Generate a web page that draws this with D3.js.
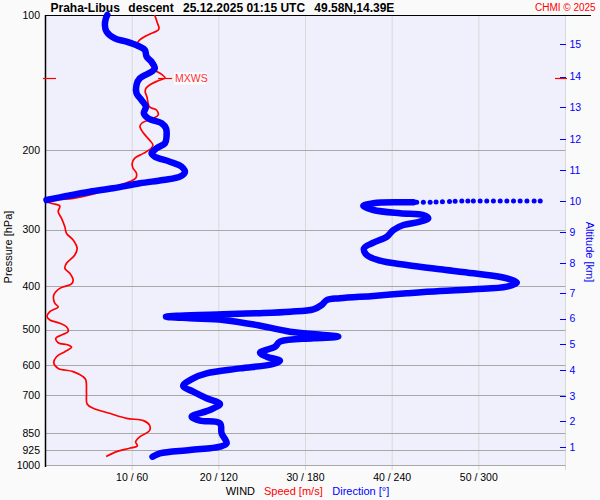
<!DOCTYPE html>
<meta charset="utf-8">
<style>
body { margin: 0; background: #fafafa; }
text { font-family: "Liberation Sans", Arial, sans-serif; }
</style>
<body>
<script src="https://cdn.jsdelivr.net/npm/d3@7"></script>
<script>
var width = 600,
    height = 500;

// wind speed [m/s] by pressure [hPa]
var speedProfile = [
  [100,12.6],[104,12.9],[107,13.1],[108,13.0],[111,11.7],[114,10.8],[116,10.6],[118,11.1],
  [121,11.6],[124,11.8],[128,12.0],[132.5,12.6],[135.5,13.4],[138,13.8],[140,13.0],[142.4,12.2],
  [145.5,11.6],[148,11.5],[152,11.7],[160,12.0],[162.6,12.8],[166.8,13.0],[169.7,12.4],[174,11.1],
  [177,10.9],[183,11.3],[189.6,12.0],[194.5,12.4],[197.8,12.2],[203,11.3],[208,10.3],[213.6,10.0],
  [219,10.1],[224.8,10.5],[230.6,10.4],[234.6,9.7],[238.6,8.6],[244.8,7.0],[251.2,5.1],[255.5,3.2],
  [257,1.65],[258.4,0.5],[259.7,0.15],[262.4,0.73],[265.7,1.65],[273.6,1.46],[283,1.85],[295.4,2.23],
  [305.6,2.42],[316.2,3.19],[330,3.65],[341.5,3.38],[356.3,2.42],[365.5,2.23],[375,2.8],[388,3.19],
  [396,3.0],[405,1.65],[419,0.96],[437,1.07],[445,1.46],[456,0.5],[468,0.18],[476,0.5],
  [484,1.65],[493,2.42],[505.5,2.61],[514,1.85],[523,1.19],[535,1.46],[541,2.61],[547.6,3.0],
  [560,2.23],[574.5,1.27],[594,0.96],[610,1.46],[620,3.19],[636.5,4.34],[647,4.65],[693,4.73],
  [732,4.8],[748,5.5],[767.6,7.4],[787.5,9.35],[797,11.3],[815,12.0],[839,12.0],[865,10.9],
  [887.6,10.4],[907,10.6],[918,9.7],[934,8.2],[958,7.0]
];

// wind direction [deg] by pressure [hPa]
var dirUpper = [
  [100,42.8],[101.7,41.8],[105.3,41.1],[108.9,42.3],[112.7,48],[114.6,56.1],[117.2,64.2],[119.6,68.8],
  [123.8,70],[127,73.4],[131.4,75.7],[133.7,73.4],[138.3,65.3],[143,63],[149.3,63],[154.5,66.5],
  [159.9,69.5],[165.4,68.1],[169.7,71.1],[174,80.4],[178.6,83.4],[186.4,83.8],[192.8,82.7],[197.8,76.9],
  [203,73.4],[206.5,75.7],[211.8,86.1],[217.3,94.2],[223.6,96.5],[228.7,93.1],[232.6,81.5],[236.6,65.3],
  [242.7,46.8],[247,30.7],[252.5,14.5],[257.7,0.7]
];
var dirDots = [
  [260.7,257],[260.7,261.6],[260.7,266.3],[260.4,270.4],[260.1,274.8],[259.6,279.7],[259.2,283.6],
  [259,288.2],[259,292.4],[259,296.2],[259,300.9],[259,305.5],[259,310.1],[259,314.8],[259,319.4],
  [259,324],[259,328.6],[259,333.3],[259,338.3],[259,342.5]
];
var dirLower = [
  [260.7,254.7],[260.7,245.5],[262,227],[265.7,220],[271.2,227],[275.9,245.5],[278.3,261.6],[283,265],
  [288,259.3],[292.9,247.8],[300.5,240.8],[311,236.3],[320.6,227],[330,220.5],[341.5,222.4],[351.6,231.6],
  [359.4,250.1],[367.4,273.2],[375,296.3],[384.7,319.4],[393.5,326.3],[401.6,319.4],[407,296.3],[410.5,273.2],
  [415.4,250.1],[421,227],[426,203.9],[430,194.7],[441,191.2],[450.8,185.4],[456.4,169.3],[460,146.2],
  [462.5,123],[465.8,93],[468.2,83.4],[472,100],[476,123],[488.5,146.2],[505.5,169.3],[518.6,202.7],
  [523,185.4],[532,162.3],[546,158.9],[563,148.5],[574.5,153.1],[586.4,162.3],[596.4,157.7],[610,134.6],
  [625.5,111.5],[641.7,102.3],[667.5,95.3],[687,102.3],[710.8,111.5],[731.8,120.8],[754.6,113.8],[781,101.2],
  [797,106.9],[808,120.8],[850,121.9],[895,125.4],[910.6,120.8],[926,100],[942,79.2],[958.4,74.1]
];

var pressureTicks = [100, 200, 300, 400, 500, 600, 700, 850, 925, 1000];
var speedTicks = [10, 20, 30, 40, 50];
var tickLabels = ["10 / 60", "20 / 120", "30 / 180", "40 / 240", "50 / 300"];
var altitudeKm = [1, 2, 3, 4, 5, 6, 7, 8, 9, 10, 11, 12, 13, 14, 15];
var altitudeP = [912, 798, 702, 615, 538, 473, 415, 356, 304, 259, 221, 189, 160, 137, 116];

var titleParts = ["Praha-Libus", "descent", "25.12.2025 01:15 UTC", "49.58N,14.39E"];
var titleX = [50.5, 128.3, 183, 314.3];

var plotLeft = 45.5, plotRight = 565.5, plotTop = 15, plotBottom = 465;

var x = d3.scaleLinear().domain([0, 60]).range([plotLeft, plotRight]);
var xDir = d3.scaleLinear().domain([0, 360]).range([plotLeft, plotRight]);
var y = d3.scaleLog().domain([100, 1000]).range([plotTop, plotBottom]);

var svg = d3.select("body").append("svg")
    .attr("width", width)
    .attr("height", height);

svg.append("rect").attr("width", width).attr("height", height).attr("fill", "#fafafa");
svg.append("rect")
    .attr("x", plotLeft).attr("y", plotTop)
    .attr("width", plotRight - plotLeft).attr("height", plotBottom - plotTop)
    .attr("fill", "#f0f0fc");

// vertical grid
svg.selectAll(".vgrid").data(speedTicks.concat([60])).enter().append("line")
    .attr("x1", d => x(d)).attr("x2", d => x(d))
    .attr("y1", plotTop).attr("y2", plotBottom + 5)
    .attr("stroke", "#d8d8d8").attr("stroke-width", 1);

// horizontal grid
svg.selectAll(".hgrid").data(pressureTicks.slice(1)).enter().append("line")
    .attr("x1", plotLeft).attr("x2", plotRight)
    .attr("y1", d => Math.round(y(d)) + 0.5).attr("y2", d => Math.round(y(d)) + 0.5)
    .attr("stroke", "#a8a8a8").attr("stroke-width", 1);

// pressure labels
svg.selectAll(".plab").data(pressureTicks).enter().append("text")
    .attr("x", 40).attr("y", d => y(d))
    .attr("dy", "0.36em")
    .attr("text-anchor", "end")
    .attr("font-size", "10.5px")
    .attr("fill", "#000")
    .text(d => d);

svg.append("text")
    .attr("transform", "translate(11.5,247) rotate(-90)")
    .attr("text-anchor", "middle")
    .attr("font-size", "11px")
    .text("Pressure [hPa]");

// wind tick labels
svg.selectAll(".xlab").data(speedTicks).enter().append("text")
    .attr("x", d => x(d)).attr("y", 481)
    .attr("text-anchor", "middle")
    .attr("font-size", "10.5px")
    .text((d, i) => tickLabels[i]);

svg.append("text").attr("x", 225.7).attr("y", 495).attr("font-size", "11px").text("WIND");
svg.append("text").attr("x", 264).attr("y", 495).attr("font-size", "11px").attr("fill", "#ff0000").text("Speed [m/s]");
svg.append("text").attr("x", 332.3).attr("y", 495).attr("font-size", "11px").attr("fill", "#0000ff").text("Direction [°]");

// altitude axis
svg.selectAll(".atick").data(altitudeP).enter().append("line")
    .attr("x1", 560).attr("x2", 566)
    .attr("y1", d => Math.round(y(d)) + 0.5).attr("y2", d => Math.round(y(d)) + 0.5)
    .attr("stroke", "#0000ff").attr("stroke-width", 1);
svg.selectAll(".alab").data(altitudeP).enter().append("text")
    .attr("x", 569.5).attr("y", d => y(d))
    .attr("dy", "0.36em")
    .attr("font-size", "10.5px")
    .attr("fill", "#0000ff")
    .text((d, i) => altitudeKm[i]);
svg.append("text")
    .attr("transform", "translate(586,252) rotate(90)")
    .attr("text-anchor", "middle")
    .attr("font-size", "11px")
    .attr("fill", "#0000ff")
    .text("Altitude [km]");

// frame
svg.append("line").attr("x1", plotLeft).attr("x2", plotLeft).attr("y1", plotTop).attr("y2", plotBottom + 2)
    .attr("stroke", "#000").attr("stroke-width", 1.5);
svg.append("line").attr("x1", plotLeft).attr("x2", 591).attr("y1", plotTop + 0.5).attr("y2", plotTop + 0.5)
    .attr("stroke", "#000").attr("stroke-width", 1.2);

// title
svg.selectAll(".title").data(titleParts).enter().append("text")
    .attr("x", (d, i) => titleX[i]).attr("y", 12)
    .attr("font-size", "12px").attr("font-weight", "bold")
    .text(d => d);
svg.append("text").attr("x", 595.7).attr("y", 11)
    .attr("text-anchor", "end").attr("font-size", "10px").attr("fill", "#ff0000")
    .text("CHMI © 2025");

// speed profile
var speedLine = d3.line()
    .x(d => x(d[1]))
    .y(d => y(d[0]))
    .curve(d3.curveCatmullRom.alpha(0.5));
svg.append("path").datum(speedProfile)
    .attr("d", speedLine)
    .attr("fill", "none").attr("stroke", "#ff0000").attr("stroke-width", 1.7)
    .attr("stroke-linejoin", "round");

// direction profile
var dirLine = d3.line()
    .x(d => xDir(d[1]))
    .y(d => y(d[0]))
    .curve(d3.curveCatmullRom.alpha(0.5));
[dirUpper, dirLower].forEach(function(seg) {
  svg.append("path").datum(seg)
      .attr("d", dirLine)
      .attr("fill", "none").attr("stroke", "#0000ff").attr("stroke-width", 6.5)
      .attr("stroke-linejoin", "round").attr("stroke-linecap", "round");
});
svg.selectAll(".dot").data(dirDots).enter().append("circle")
    .attr("cx", d => xDir(d[1])).attr("cy", d => y(d[0]))
    .attr("r", 2.5).attr("fill", "#0000ff");

// max wind marker
var maxW = speedProfile.reduce((a, b) => b[1] > a[1] ? b : a);
var my = Math.round(y(maxW[0])) + 0.5;
svg.append("line").attr("x1", 43).attr("x2", 56).attr("y1", my).attr("y2", my)
    .attr("stroke", "#ff0000").attr("stroke-width", 1.2);
svg.append("line").attr("x1", 555).attr("x2", 567).attr("y1", my).attr("y2", my)
    .attr("stroke", "#ff0000").attr("stroke-width", 1.2);
svg.append("line").attr("x1", x(maxW[1]) - 7).attr("x2", x(maxW[1]) + 7).attr("y1", my).attr("y2", my)
    .attr("stroke", "#ff0000").attr("stroke-width", 1.2);
svg.append("rect").attr("x", x(maxW[1]) + 9).attr("y", my - 6).attr("width", 32).attr("height", 12)
    .attr("fill", "#fff").attr("opacity", 0.8);
svg.append("text").attr("x", x(maxW[1]) + 10).attr("y", my).attr("dy", "0.36em")
    .attr("font-size", "10.5px").attr("fill", "#ff3030")
    .text("MXWS");
</script>
</body>
